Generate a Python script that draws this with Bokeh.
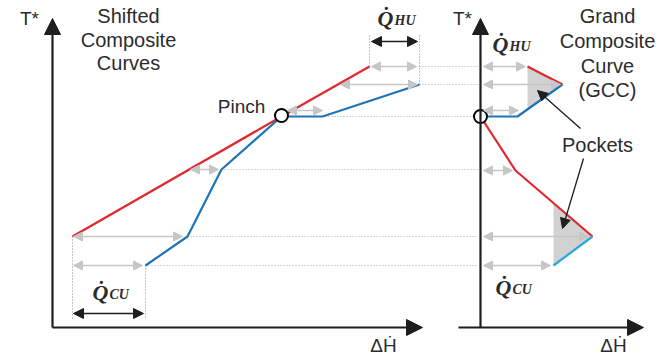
from bokeh.plotting import figure
from bokeh.models import Range1d, Arrow, NormalHead, ColumnDataSource
from bokeh.core.properties import value
from bokeh.embed import file_html
from bokeh.resources import INLINE

# ---- data (H = heat flow, T* = shifted temperature) ----
hot_H = [20, 229, 317]
hot_T = [91, 211, 261]
cold_H = [93, 135, 169, 229, 270, 367]
cold_T = [62, 91, 158, 211, 211, 243]
pinch_H = 229
pinch_T = 212

# grand composite curve
gcc_hot_up_H = [47, 82]
gcc_hot_up_T = [261, 243]
gcc_cold_up_H = [82, 37, 0]
gcc_cold_up_T = [243, 211, 211]
gcc_hot_lo_H = [0, 35, 112]
gcc_hot_lo_T = [211, 157, 91]
gcc_cold_lo_H = [112, 73]
gcc_cold_lo_T = [91, 62]
pocket_up_H = [47, 82, 47]
pocket_up_T = [261, 243, 218]
pocket_lo_H = [73, 112, 73]
pocket_lo_T = [124, 91, 62]

# heat-difference arrows
la_T = [261, 243, 217, 158, 91, 62]
la_H0 = [319, 288, 235, 138, 21, 21]
la_H1 = [364, 365, 270, 166, 130, 90]
ra_T = [261, 243, 217, 157, 91, 62]
ra_H0 = [3, 3, 3, 3, 3, 3]
ra_H1 = [45, 80, 38, 32, 108, 70]

# utilities
qhu_H = [319, 365]
qcu_H = [21, 91]

GX = 428  # horizontal origin of the GCC panel
TY = 8    # text baseline adjustment

FONT = value("Liberation Sans")
TXT = "#2b2b2b"
RED = "#e0282e"
BLUE = "#1f73b7"
CYAN = "#27a9df"
GREY_ARROW = "#c6c6c6"

p = figure(width=668, height=359, x_range=Range1d(-52, 616), y_range=Range1d(-32, 327),
           output_backend="svg", toolbar_location=None, x_axis_type=None, y_axis_type=None,
           min_border=0, outline_line_color=None)
p.grid.visible = False
p.background_fill_color = "white"

# dotted level lines
dot_starts = [367, 367, 270, 169, 135, 93]
dot_levels = [261, 243, 211, 158, 91, 62]
p.segment(x0=dot_starts, y0=dot_levels, x1=[GX - 2] * 6, y1=dot_levels,
          line_color="#aaaaaa", line_width=1.1, line_dash="1 2")
# vertical dotted lines
p.segment(x0=[hot_H[-1], cold_H[-1], hot_H[0], cold_H[0]],
          y0=[hot_T[-1], cold_T[-1], hot_T[0], cold_T[0]],
          x1=[hot_H[-1], cold_H[-1], hot_H[0], cold_H[0]],
          y1=[294, 294, 9, 9], line_color="#8c8c8c", line_width=1.1, line_dash="1 2")

# pockets
p.patch(x=[GX + h for h in pocket_up_H], y=pocket_up_T, fill_color="#d2d2d2", line_color=None)
p.patch(x=[GX + h for h in pocket_lo_H], y=pocket_lo_T, fill_color="#d2d2d2", line_color=None)

# grey double arrows
def grey_arrows(x0, x1, ys):
    src = ColumnDataSource(dict(x0=x0, x1=x1, y=ys))
    p.add_layout(Arrow(x_start="x0", y_start="y", x_end="x1", y_end="y", source=src,
                       line_color=GREY_ARROW, line_width=1.6,
                       start=NormalHead(size=9, fill_color=GREY_ARROW, line_color=GREY_ARROW),
                       end=NormalHead(size=9, fill_color=GREY_ARROW, line_color=GREY_ARROW)))

grey_arrows(la_H0, la_H1, la_T)
grey_arrows([GX + h for h in ra_H0], [GX + h for h in ra_H1], ra_T)

# composite curves
p.line(hot_H, hot_T, line_color=RED, line_width=2.2)
p.line(cold_H, cold_T, line_color=BLUE, line_width=2.2)

# GCC
p.line([GX + h for h in gcc_hot_up_H], gcc_hot_up_T, line_color=RED, line_width=2.2)
p.line([GX + h for h in gcc_cold_up_H], gcc_cold_up_T, line_color=BLUE, line_width=2.2)
p.line([GX + h for h in gcc_hot_lo_H], gcc_hot_lo_T, line_color=RED, line_width=2.2)
p.line([GX + h for h in gcc_cold_lo_H], gcc_cold_lo_T, line_color=CYAN, line_width=2.2)

# axes
AX = "#1e1e1e"
def axis_arrow(x0, y0, x1, y1):
    p.add_layout(Arrow(x_start=x0, y_start=y0, x_end=x1, y_end=y1, line_color=AX, line_width=2.2,
                       end=NormalHead(size=16, fill_color=AX, line_color=AX)))

axis_arrow(0, 0, 0, 309)
axis_arrow(0, 0, 370, 0)
axis_arrow(GX, 0, GX, 309)
axis_arrow(GX - 22, 0, GX + 163, 0)

# utility dimension arrows
def dim_arrow(x0, x1, y):
    p.add_layout(Arrow(x_start=x0, y_start=y, x_end=x1, y_end=y, line_color=AX, line_width=1.6,
                       start=NormalHead(size=10, fill_color=AX, line_color=AX),
                       end=NormalHead(size=10, fill_color=AX, line_color=AX)))

dim_arrow(qhu_H[0], qhu_H[1], 286)
dim_arrow(qcu_H[0], qcu_H[1], 14)

# pocket pointer arrows
for (x0, y0, x1, y1) in [(100, 199, 57, 237), (103, 169, 82, 99)]:
    p.add_layout(Arrow(x_start=GX + x0, y_start=y0, x_end=GX + x1, y_end=y1, line_color=AX,
                       line_width=1.3, end=NormalHead(size=10, fill_color=AX, line_color=AX)))

# pinch circles
p.scatter([pinch_H, GX], [pinch_T, pinch_T - 1], size=13, fill_color="white", line_color="black",
          line_width=2)

# texts
def txt(x, y, s, size, align="center", font=FONT, style="normal"):
    p.text(x=[x], y=[y + TY], text=[s], text_font=font, text_font_size=f"{size}px",
           text_align=align, text_baseline="alphabetic", text_font_style=style, text_color=TXT)

for s, y in zip(["Shifted", "Composite", "Curves"], [304, 280, 257]):
    txt(76, y, s, 20)
for s, y in zip(["Grand", "Composite", "Curve", "(GCC)"], [304, 279, 254, 230]):
    txt(555, y, s, 20)
txt(189, 213, "Pinch", 19)
txt(545, 175, "Pockets", 20)
txt(-23, 301, "T*", 19)
txt(410, 301, "T*", 19)
txt(331, -26, "ΔḢ", 19)
txt(561, -26, "ΔḢ", 19)

QF = value("Liberation Serif")
def qlabel(x, y, sub):
    txt(x, y, "Q\u0307", 22, align="left", font=QF, style="bold italic")
    txt(x + 17, y - 2, sub, 14, align="left", font=QF, style="bold italic")

qlabel(325, 301, "HU")
qlabel(440, 275, "HU")
qlabel(40, 27, "CU")
qlabel(443, 32, "CU")

open("out.html", "w").write(file_html(p, INLINE))
